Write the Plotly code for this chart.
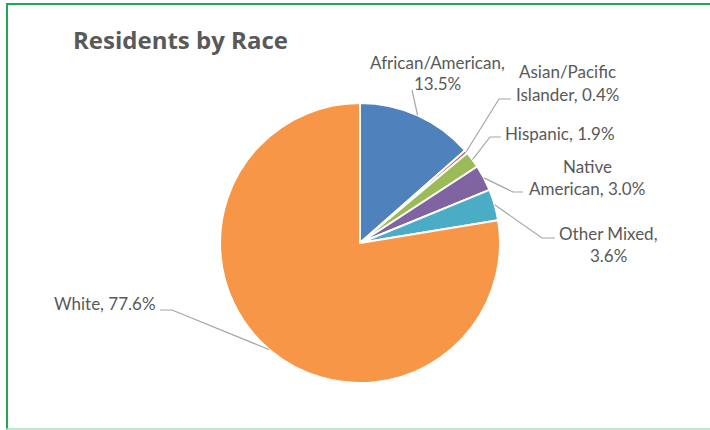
import math
import plotly.graph_objects as go

# Share of residents by race (percent)
races = ["African/American", "Asian/Pacific Islander", "Hispanic",
         "Native American", "Other Mixed", "White"]
shares = [13.5, 0.4, 1.9, 3.0, 3.6, 77.6]

slice_colors = ["#4F81BD", "#C0504D", "#9BBB59", "#8064A2", "#4BACC6", "#F79646"]

W, H = 710, 430
CX, CY, R = 360, 243, 140  # pie centre and radius in pixels

# Label layout: (text anchor x, first line y, x-anchor, words on first line,
#                leader bend point or None, leader end next to text or None)
label_layout = [
    (438, 62, "center", 1, None, (412, 90)),
    (567, 72, "center", 1, (499, 99), (511, 99)),
    (503, 133, "left", 0, (490, 137), (501, 137)),
    (587, 166, "center", 1, (513, 192), (523, 192)),
    (608, 233, "center", 2, (542, 238), (555, 238)),
    (158, 303, "right", 0, (172, 310), (160, 310)),
]
LINE_GAP = 22
TEXT_COLOR = "#595959"


def px(x):
    return x / W


def py(y):
    return 1 - y / H


fig = go.Figure(go.Pie(
    labels=races,
    values=shares,
    sort=False,
    direction="clockwise",
    rotation=0,
    marker=dict(colors=slice_colors, line=dict(color="white", width=2)),
    textinfo="none",
    textposition="none",
    hoverinfo="label+percent",
    showlegend=False,
    domain=dict(x=[px(CX - R), px(CX + R)], y=[py(CY + R), py(CY - R)]),
))

shapes = []
annotations = []
total = sum(shares)
cum = 0.0
for name, val, (tx, ty, anchor, nfirst, bend, end) in zip(races, shares, label_layout):
    theta = 2 * math.pi * (cum + val / 2) / total
    cum += val
    ex = CX + R * math.sin(theta)
    ey = CY - R * math.cos(theta)

    # leader line from the slice edge to the label
    pts = [(ex, ey)]
    if bend is not None:
        pts.append(bend)
    if end is not None:
        pts.append(end)
    path = "M " + " L ".join(f"{px(x):.5f},{py(y):.5f}" for x, y in pts)
    shapes.append(dict(type="path", xref="paper", yref="paper", path=path,
                       line=dict(color="#A6A6A6", width=1.2)))

    words = f"{name}, {val:.1f}%".split(" ")
    lines = [" ".join(words)] if nfirst == 0 else [" ".join(words[:nfirst]), " ".join(words[nfirst:])]
    for i, line in enumerate(lines):
        annotations.append(dict(
            text=line, x=px(tx), y=py(ty + i * LINE_GAP), xref="paper", yref="paper",
            xanchor=anchor, yanchor="middle", showarrow=False,
            font=dict(family="Lato", size=17, color=TEXT_COLOR),
        ))

annotations.append(dict(
    text="<b>Residents by Race</b>", x=px(71), y=py(39), xref="paper", yref="paper",
    xanchor="left", yanchor="middle", showarrow=False,
    font=dict(family="Open Sans", size=24, color=TEXT_COLOR),
))

# frame lines
shapes += [
    dict(type="line", xref="paper", yref="paper", x0=px(6), x1=1, y0=py(4), y1=py(4),
         line=dict(color="#1EAA55", width=2)),
    dict(type="line", xref="paper", yref="paper", x0=px(7), x1=px(7), y0=py(4), y1=0,
         line=dict(color="#1EAA55", width=2)),
    dict(type="line", xref="paper", yref="paper", x0=px(6), x1=1, y0=py(429), y1=py(429),
         line=dict(color="#A8E2C2", width=1.5)),
]

fig.update_layout(
    width=W, height=H,
    margin=dict(l=0, r=0, t=0, b=0),
    paper_bgcolor="white",
    plot_bgcolor="white",
    shapes=shapes,
    annotations=annotations,
)

fig.write_html("out.html")
